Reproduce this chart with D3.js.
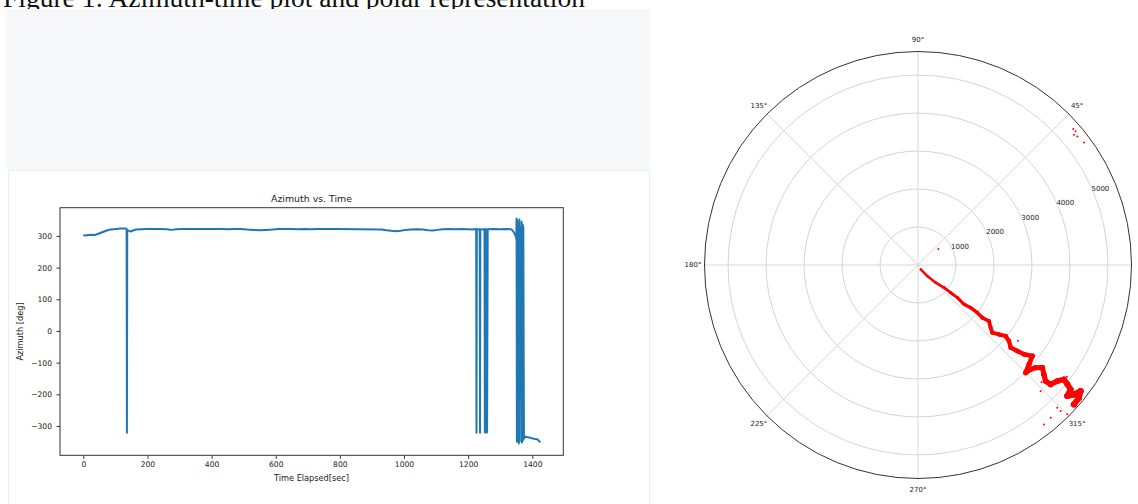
<!DOCTYPE html>
<html>
<head>
<meta charset="utf-8">
<script src="https://cdn.jsdelivr.net/npm/d3@7"></script>
<style>
  body { margin: 0; background: #fff; }
  svg { display: block; }
</style>
</head>
<body>
<div id="chart"></div>
<script>
// azimuth vs time (line plot)
const timeSec = [0, 8, 15, 25, 35, 45, 55, 65, 75, 85, 95, 105, 115, 125, 133, 135, 136, 137, 142, 148, 155, 165, 180, 200, 220, 240, 260, 275, 290, 310, 330, 350, 370, 390, 410, 430, 450, 470, 490, 510, 530, 550, 570, 590, 610, 630, 650, 670, 690, 710, 730, 750, 770, 785,
  930, 945, 960, 975, 990, 1005, 1020, 1040, 1060, 1075, 1090, 1105, 1120, 1140, 1160, 1180, 1200, 1215, 1222, 1225, 1226, 1227, 1236, 1237, 1238, 1251, 1252, 1254, 1256, 1258, 1259, 1261, 1280, 1300, 1320, 1336,
  1342, 1348, 1350, 1351, 1352, 1353, 1355, 1356, 1357, 1358, 1360, 1361, 1363, 1365, 1366, 1367, 1368, 1370, 1371, 1372, 1374, 1378, 1390, 1404, 1415, 1420, 1425];
const azimuthDeg = [302, 301, 303, 304, 303, 306, 310, 314, 318, 320, 321, 322, 323, 323, 323, 322, -321, 318, 316, 314, 317, 320, 321, 322, 322, 322, 321, 319, 321, 322, 322, 322, 322, 322, 322, 322, 321, 322, 322, 320, 319, 318, 319, 320, 322, 322, 322, 321, 322, 321, 322, 322, 322, 322,
  320, 318, 316, 315, 316, 319, 320, 321, 320, 318, 317, 319, 321, 322, 321, 322, 321, 320, 322, 322, -321, 320, 321, -321, 320, 321, -320, 322, -321, 320, -320, 321, 322, 321, 322, 320,
  312, 300, 290, 355, -350, 350, 10, -5, 340, -355, 352, -348, 330, 5, -10, 345, -352, 335, -345, 330, -340, -334, -336, -340, -342, -346, -352];

const xTicks = [0, 200, 400, 600, 800, 1000, 1200, 1400];
const yTicks = [-300, -200, -100, 0, 100, 200, 300];

// polar: azimuth (deg) and distance
const trackAz = [301.7, 310, 315, 318.9, 319.7, 320.3, 319.5, 321, 321.2, 320.7, 321.7, 319.2, 317.7, 319.4, 321, 320.1, 318.3, 319.1, 319.9, 321.5, 318.2, 315, 317.2, 318.9, 320.5, 319, 317.7, 318, 320.2, 321.9, 321.4, 320.8, 318.7, 320.3, 322.2, 320.5, 318.2];
const trackDist = [135, 381, 659, 909, 1128, 1347, 1594, 1785, 2004, 2189, 2380, 2526, 2646, 2807, 2970, 3121, 3269, 3459, 3649, 3847, 3921, 4008, 4042, 4111, 4245, 4391, 4540, 4697, 4772, 4881, 5032, 5183, 5229, 5334, 5416, 5491, 5506];
const strayAz = [314.2, 314.3, 314.3, 311, 308.3, 315, 316.5, 322.8, 320.9, 317.4, 323.1, -318.8, -319.7, -320.1, -321.1, -323.6, -321.9];
const strayDist = [4629, 5250, 5373, 5324, 5347, 5558, 4480, 3300, 2250, 3990, 4900, 5434, 5439, 5350, 5389, 5431, 682];

const ringTicks = [1000, 2000, 3000, 4000, 5000];
const angleTicks = [0, 45, 90, 135, 180, 225, 270, 315];

const W = 1138, H = 504;
const svg = d3.select("#chart").append("svg")
  .attr("width", W)
  .attr("height", H);

// caption, mostly cut off at the top
svg.append("text")
  .attr("x", 3)
  .attr("y", 7)
  .style("font-family", "Liberation Serif, Times New Roman, serif")
  .style("font-size", "27.5px")
  .style("fill", "#111")
  .text("Figure 1: Azimuth-time plot and polar representation");

// notebook panels
svg.append("rect")
  .attr("x", 6).attr("y", 9).attr("width", 644).attr("height", 161)
  .attr("fill", "#f7f8fa");
svg.append("rect")
  .attr("x", 8.5).attr("y", 170.5).attr("width", 641).attr("height", 340)
  .attr("fill", "#fff").attr("stroke", "#eceef0");

// ---- line plot ----
const x = d3.scaleLinear().domain([-72.7, 1496.7]).range([60, 563.3]);
const y = d3.scaleLinear().domain([-392.5, 389]).range([455.3, 207.7]);
const fmt = d3.format("d");

const gx = svg.append("g")
  .attr("transform", "translate(0,455.3)")
  .call(d3.axisBottom(x).tickValues(xTicks).tickFormat(fmt).tickSize(3.5).tickSizeOuter(0).tickPadding(3));
const gy = svg.append("g")
  .attr("transform", "translate(60,0)")
  .call(d3.axisLeft(y).tickValues(yTicks).tickFormat(fmt).tickSize(3.5).tickSizeOuter(0).tickPadding(4.5));
[gx, gy].forEach(g => {
  g.select(".domain").remove();
  g.selectAll("line").attr("stroke", "#333");
  g.selectAll("text")
    .style("font-family", "DejaVu Sans, sans-serif")
    .style("font-size", "7.6px")
    .attr("fill", "#222");
});

svg.append("path")
  .datum(timeSec.map((t, i) => [t, azimuthDeg[i]]))
  .attr("fill", "none")
  .attr("stroke", "#1f77b4")
  .attr("stroke-width", 2)
  .attr("stroke-linejoin", "round")
  .attr("d", d3.line().x(d => x(d[0])).y(d => y(d[1])));

svg.append("rect")
  .attr("x", 60).attr("y", 207.7).attr("width", 503.3).attr("height", 247.6)
  .attr("fill", "none").attr("stroke", "#333").attr("stroke-width", 1);

svg.append("text")
  .attr("x", 311.5).attr("y", 201.5)
  .attr("text-anchor", "middle")
  .style("font-family", "DejaVu Sans, sans-serif")
  .style("font-size", "9.4px")
  .attr("fill", "#222")
  .text("Azimuth vs. Time");
svg.append("text")
  .attr("x", 311.5).attr("y", 481)
  .attr("text-anchor", "middle")
  .style("font-family", "DejaVu Sans, sans-serif")
  .style("font-size", "8.2px")
  .attr("fill", "#222")
  .text("Time Elapsed[sec]");
svg.append("text")
  .attr("transform", "translate(22.5,331.5) rotate(-90)")
  .attr("text-anchor", "middle")
  .style("font-family", "DejaVu Sans, sans-serif")
  .style("font-size", "8.2px")
  .attr("fill", "#222")
  .text("Azimuth [deg]");

// ---- polar plot ----
const cx = 918, cy = 265, R = 213.5;
const r = d3.scaleLinear().domain([0, 5620]).range([0, R]);
const px = (deg, rad) => cx + rad * Math.cos(deg * Math.PI / 180);
const py = (deg, rad) => cy - rad * Math.sin(deg * Math.PI / 180);

const polar = svg.append("g");
polar.selectAll(".ring")
  .data(ringTicks)
  .join("circle")
  .attr("cx", cx).attr("cy", cy)
  .attr("r", d => r(d))
  .attr("fill", "none")
  .attr("stroke", "#cfcfcf")
  .attr("stroke-width", 0.9);
polar.selectAll(".spoke")
  .data(angleTicks)
  .join("line")
  .attr("x1", cx).attr("y1", cy)
  .attr("x2", d => px(d, R)).attr("y2", d => py(d, R))
  .attr("stroke", "#d4d4d4")
  .attr("stroke-width", 0.9);

// track drawn as thick segments, wider further out
const track = trackAz.map((a, i) => [a, trackDist[i]]);
polar.selectAll(".seg")
  .data(d3.pairs(track))
  .join("line")
  .attr("x1", d => px(d[0][0], r(d[0][1]))).attr("y1", d => py(d[0][0], r(d[0][1])))
  .attr("x2", d => px(d[1][0], r(d[1][1]))).attr("y2", d => py(d[1][0], r(d[1][1])))
  .attr("stroke", "red")
  .attr("stroke-linecap", "round")
  .attr("stroke-width", d => 2 + r(d[1][1]) / R * 4);
polar.selectAll(".pt")
  .data(track)
  .join("circle")
  .attr("cx", d => px(d[0], r(d[1]))).attr("cy", d => py(d[0], r(d[1])))
  .attr("r", d => 1 + r(d[1]) / R * 2.2)
  .attr("fill", "red");
polar.selectAll(".stray")
  .data(strayAz.map((a, i) => [a, strayDist[i]]))
  .join("circle")
  .attr("cx", d => px(d[0], r(d[1]))).attr("cy", d => py(d[0], r(d[1])))
  .attr("r", 1)
  .attr("fill", "red");

polar.append("circle")
  .attr("cx", cx).attr("cy", cy).attr("r", R)
  .attr("fill", "none")
  .attr("stroke", "#333")
  .attr("stroke-width", 1);

// the 0° label falls outside the picture, so it is left out
polar.selectAll(".alab")
  .data(angleTicks.filter(d => d !== 0))
  .join("text")
  .attr("x", d => px(d, R + 11.5))
  .attr("y", d => py(d, R + 11.5))
  .attr("text-anchor", "middle")
  .attr("dominant-baseline", "central")
  .style("font-family", "DejaVu Sans, sans-serif")
  .style("font-size", "7px")
  .attr("fill", "#222")
  .text(d => d + "°");
polar.selectAll(".rlab")
  .data(ringTicks)
  .join("text")
  .attr("x", d => px(22.5, r(d)) - 2)
  .attr("y", d => py(22.5, r(d)) - 3.5)
  .attr("dominant-baseline", "central")
  .style("font-family", "DejaVu Sans, sans-serif")
  .style("font-size", "7px")
  .attr("fill", "#222")
  .text(d => d);
</script>
</body>
</html>
